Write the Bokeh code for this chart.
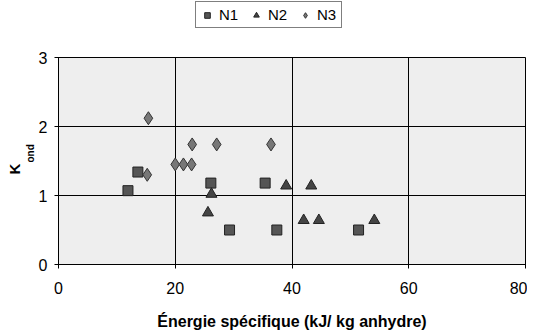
from bokeh.plotting import figure
from bokeh.layouts import column
from bokeh.models import Range1d, Legend, LegendItem, Title, FixedTicker
from bokeh.embed import file_html
from bokeh.resources import INLINE

# Data
n1_x = [11.9, 13.6, 26.1, 29.3, 35.4, 37.4, 51.4]
n1_y = [1.07, 1.34, 1.18, 0.50, 1.18, 0.50, 0.50]
n2_x = [26.2, 25.6, 39.0, 43.3, 42.0, 44.6, 54.1]
n2_y = [1.02, 0.75, 1.14, 1.14, 0.64, 0.64, 0.64]
n3_x = [15.4, 15.2, 20.0, 21.4, 22.8, 22.9, 27.1, 36.4]
n3_y = [2.12, 1.30, 1.45, 1.45, 1.45, 1.74, 1.74, 1.74]
series_names = ["N1", "N2", "N3"]
x_ticks = [0, 20, 40, 60, 80]
y_ticks = [0, 1, 2, 3]

FONT = "Liberation Sans"
STYLES = [dict(marker="square", size=10, fill_color="#555555", line_color="#222222"),
          dict(marker="triangle", size=11, fill_color="#444444", line_color="#222222"),
          dict(marker="diamond", size=13, fill_color="#777777", line_color="#333333")]
XS = [n1_x, n2_x, n3_x]
YS = [n1_y, n2_y, n3_y]

# ---- legend strip (separate small figure so the legend is not clipped) ----
leg = figure(width=527, height=30, output_backend="svg", toolbar_location=None,
             x_axis_location=None, y_axis_location=None,
             x_range=Range1d(0, 1), y_range=Range1d(0, 1),
             min_border_left=0, min_border_right=0, min_border_top=0, min_border_bottom=0)
leg.outline_line_color = None
leg.background_fill_color = "white"
leg.grid.visible = False
# legend proxies: the series' own points fall outside this strip's ranges, so only the legend shows them
leg_renderers = [leg.scatter(xs, ys, **st) for xs, ys, st in zip(XS, YS, STYLES)]
legend = Legend(items=[LegendItem(label=n, renderers=[r]) for n, r in zip(series_names, leg_renderers)],
                orientation="horizontal", location=(137, 2),
                border_line_color="black", border_line_width=1,
                background_fill_color="white", background_fill_alpha=1,
                label_text_font=FONT, label_text_font_size="15px", label_text_color="black",
                glyph_width=14, glyph_height=14, spacing=10, padding=4,
                label_standoff=5, margin=0, label_height=15)
leg.add_layout(legend, "center")

# ---- main chart ----
p = figure(width=527, height=302, output_backend="svg", toolbar_location=None,
           x_range=Range1d(0, 80), y_range=Range1d(0, 3),
           min_border_left=58, min_border_right=2, min_border_top=27, min_border_bottom=67)

p.background_fill_color = "#eeeeee"
p.border_fill_color = "white"
p.outline_line_color = "black"
p.outline_line_width = 1

p.xaxis.ticker = FixedTicker(ticks=x_ticks)
p.yaxis.ticker = FixedTicker(ticks=y_ticks)
for ax in (p.xaxis, p.yaxis):
    ax.axis_line_color = "black"
    ax.major_tick_line_color = "black"
    ax.minor_tick_line_color = None
    ax.major_label_text_font = FONT
    ax.major_label_text_font_size = "16px"
    ax.major_label_text_color = "black"
    ax.major_tick_in = 4
    ax.major_tick_out = 4
p.xaxis.major_label_standoff = 13
p.yaxis.major_label_standoff = 7

p.xaxis.axis_label = "Énergie spécifique (kJ/ kg anhydre)"
p.xaxis.axis_label_text_font = FONT
p.xaxis.axis_label_text_font_size = "16px"
p.xaxis.axis_label_text_font_style = "bold"
p.xaxis.axis_label_text_color = "black"
p.xaxis.axis_label_standoff = 16

p.xgrid.ticker = FixedTicker(ticks=[20, 40, 60])
p.ygrid.ticker = FixedTicker(ticks=[1, 2])
p.grid.grid_line_color = "black"
p.grid.grid_line_width = 1

for xs, ys, st in zip(XS, YS, STYLES):
    p.scatter(xs, ys, **st)

# Y axis title "K" with subscript "ond" (rotated side titles)
p.add_layout(Title(text="ond", align="left", offset=102, standoff=0,
                   text_font=FONT, text_font_size="10px", text_font_style="bold",
                   text_color="black"), "left")
p.add_layout(Title(text="K", align="left", offset=90, standoff=0,
                   text_font=FONT, text_font_size="15px", text_font_style="bold",
                   text_color="black"), "left")

layout = column(leg, p, spacing=0)
open("out.html", "w").write(file_html(layout, INLINE))
